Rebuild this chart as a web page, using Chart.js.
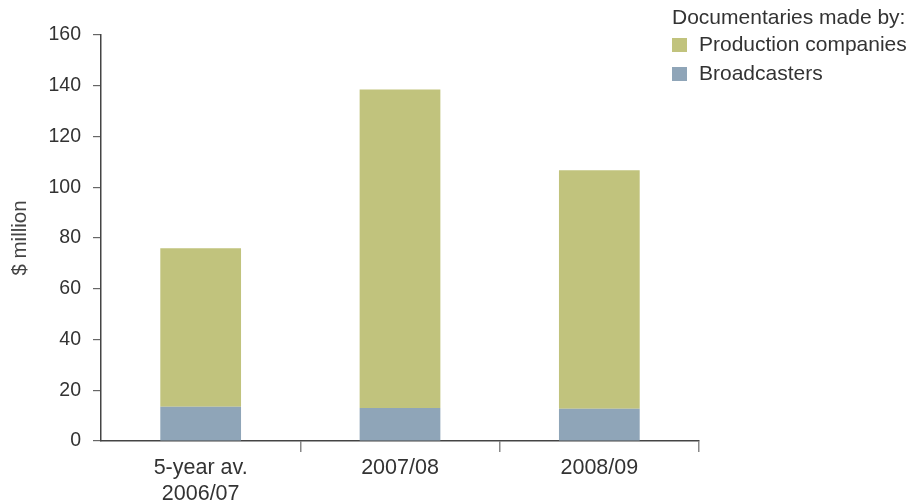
<!DOCTYPE html>
<html>
<head>
<meta charset="utf-8">
<script src="https://cdn.jsdelivr.net/npm/chart.js@4/dist/chart.umd.min.js"></script>
<style>
  html, body { margin: 0; padding: 0; background: #fff; }
  #wrap { width: 914px; height: 503px; position: relative; }
</style>
</head>
<body>
<div id="wrap"><canvas id="c" width="914" height="503"></canvas></div>
<script>
// Documentary production spend, $ million
const categories = [['5-year av.', '2006/07'], '2007/08', '2008/09'];
const broadcasters = [13.5, 13, 12.7];
const productionCompanies = [62.5, 125.5, 94];
const yTicks = [0, 20, 40, 60, 80, 100, 120, 140, 160];

const legendTitle = 'Documentaries made by:';
const textColor = '#333333';
const fontFamily = '"Liberation Sans", Arial, Helvetica, sans-serif';

// Legend block in the upper right: title plus one swatch row per series
const sideLegend = {
  id: 'sideLegend',
  afterDraw(chart) {
    const ctx = chart.ctx;
    ctx.save();
    ctx.fillStyle = textColor;
    ctx.textBaseline = 'middle';
    ctx.textAlign = 'left';
    ctx.font = '21px ' + fontFamily;
    ctx.fillText(legendTitle, 672, 18);
    const items = chart.data.datasets.slice().reverse();
    items.forEach((ds, i) => {
      const cy = 45 + i * 29;
      ctx.fillStyle = ds.backgroundColor;
      ctx.fillRect(672, cy - 7, 15, 14);
      ctx.fillStyle = textColor;
      ctx.fillText(ds.label, 699, cy);
    });
    ctx.restore();
  }
};

new Chart(document.getElementById('c'), {
  type: 'bar',
  data: {
    labels: categories,
    datasets: [
      { label: 'Broadcasters', data: broadcasters, backgroundColor: '#8fa5b8' },
      { label: 'Production companies', data: productionCompanies, backgroundColor: '#c1c37d' }
    ]
  },
  options: {
    responsive: false,
    animation: false,
    layout: { padding: { left: 0, right: 215, top: 35, bottom: 0 } },
    datasets: { bar: { categoryPercentage: 1, barPercentage: 0.405 } },
    plugins: { legend: { display: false }, tooltip: { enabled: false } },
    scales: {
      x: {
        stacked: true,
        afterFit(scale) { scale.height = 62; },
        border: { display: true, color: '#444', width: 1.5 },
        grid: {
          offset: true,
          drawOnChartArea: false,
          drawTicks: true,
          tickLength: 11,
          color: (c) => c.index === 0 ? 'rgba(0,0,0,0)' : '#888',
          lineWidth: 1.5
        },
        ticks: {
          color: textColor,
          padding: 3,
          font: { family: fontFamily, size: 21.5 }
        }
      },
      y: {
        stacked: true,
        min: 0,
        max: 160,
        afterFit(scale) { scale.width = 101; },
        afterBuildTicks(scale) { scale.ticks = yTicks.map(v => ({ value: v })); },
        border: { display: true, color: '#444', width: 1.5 },
        grid: {
          drawOnChartArea: false,
          drawTicks: true,
          tickLength: 8,
          color: '#666',
          lineWidth: 1.2
        },
        ticks: {
          color: textColor,
          padding: 12,
          font: { family: fontFamily, size: 19.5 }
        },
        title: {
          display: true,
          text: '$ million',
          color: '#444',
          padding: { top: 8, bottom: 0 },
          font: { family: fontFamily, size: 20.5 }
        }
      }
    }
  },
  plugins: [sideLegend]
});
</script>
</body>
</html>
